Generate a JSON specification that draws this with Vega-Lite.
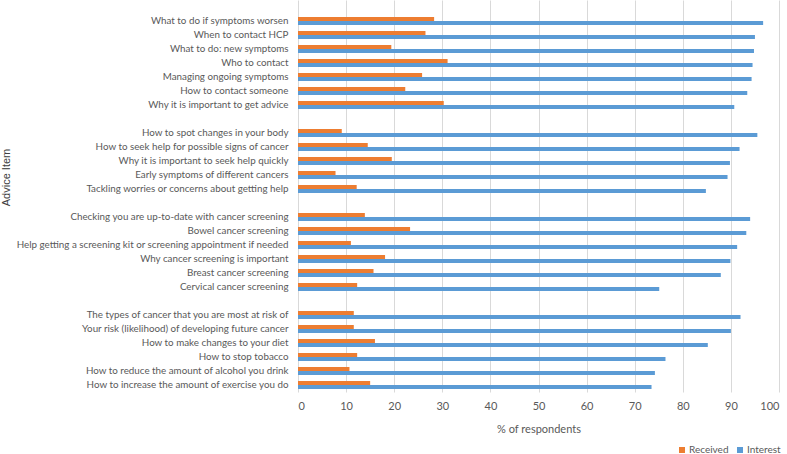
{
  "$schema": "https://vega.github.io/schema/vega-lite/v6.json",
  "autosize": {"type": "none"},
  "width": 481,
  "height": 392,
  "padding": {"left": 298, "top": 0, "right": 8, "bottom": 62},
  "background": "white",
  "config": {
    "view": {"stroke": null},
    "font": "Lato",
    "axis": {"labelColor": "#595959", "titleColor": "#595959", "labelFont": "Lato", "titleFont": "Lato"}
  },
  "data": {
    "values": [
      {"item": "What to do if symptoms worsen", "series": "Received", "value": 28.3},
      {"item": "What to do if symptoms worsen", "series": "Interest", "value": 96.7},
      {"item": "When to contact HCP", "series": "Received", "value": 26.5},
      {"item": "When to contact HCP", "series": "Interest", "value": 95.0},
      {"item": "What to do: new symptoms", "series": "Received", "value": 19.4},
      {"item": "What to do: new symptoms", "series": "Interest", "value": 94.8},
      {"item": "Who to contact", "series": "Received", "value": 31.1},
      {"item": "Who to contact", "series": "Interest", "value": 94.5},
      {"item": "Managing ongoing symptoms", "series": "Received", "value": 25.8},
      {"item": "Managing ongoing symptoms", "series": "Interest", "value": 94.3},
      {"item": "How to contact someone", "series": "Received", "value": 22.3},
      {"item": "How to contact someone", "series": "Interest", "value": 93.4},
      {"item": "Why it is important to get advice", "series": "Received", "value": 30.3},
      {"item": "Why it is important to get advice", "series": "Interest", "value": 90.7},
      {"item": "How to spot changes in your body", "series": "Received", "value": 9.1},
      {"item": "How to spot changes in your body", "series": "Interest", "value": 95.5},
      {"item": "How to seek help for possible signs of cancer", "series": "Received", "value": 14.5},
      {"item": "How to seek help for possible signs of cancer", "series": "Interest", "value": 91.8},
      {"item": "Why it is important to seek help quickly", "series": "Received", "value": 19.5},
      {"item": "Why it is important to seek help quickly", "series": "Interest", "value": 89.8},
      {"item": "Early symptoms of different cancers", "series": "Received", "value": 7.8},
      {"item": "Early symptoms of different cancers", "series": "Interest", "value": 89.3},
      {"item": "Tackling worries or concerns about getting help", "series": "Received", "value": 12.2},
      {"item": "Tackling worries or concerns about getting help", "series": "Interest", "value": 84.8},
      {"item": "Checking you are up-to-date with cancer screening", "series": "Received", "value": 13.9},
      {"item": "Checking you are up-to-date with cancer screening", "series": "Interest", "value": 94.0},
      {"item": "Bowel cancer screening", "series": "Received", "value": 23.3},
      {"item": "Bowel cancer screening", "series": "Interest", "value": 93.2},
      {"item": "Help getting a screening kit or screening appointment if needed", "series": "Received", "value": 11.0},
      {"item": "Help getting a screening kit or screening appointment if needed", "series": "Interest", "value": 91.3},
      {"item": "Why cancer screening is important", "series": "Received", "value": 18.1},
      {"item": "Why cancer screening is important", "series": "Interest", "value": 89.9},
      {"item": "Breast cancer screening", "series": "Received", "value": 15.7},
      {"item": "Breast cancer screening", "series": "Interest", "value": 87.9},
      {"item": "Cervical cancer screening", "series": "Received", "value": 12.3},
      {"item": "Cervical cancer screening", "series": "Interest", "value": 75.1},
      {"item": "The types of cancer that you are most at risk of", "series": "Received", "value": 11.6},
      {"item": "The types of cancer that you are most at risk of", "series": "Interest", "value": 92.0},
      {"item": "Your risk (likelihood) of developing future cancer", "series": "Received", "value": 11.6},
      {"item": "Your risk (likelihood) of developing future cancer", "series": "Interest", "value": 90.0},
      {"item": "How to make changes to your diet", "series": "Received", "value": 16.0},
      {"item": "How to make changes to your diet", "series": "Interest", "value": 85.2},
      {"item": "How to stop tobacco", "series": "Received", "value": 12.3},
      {"item": "How to stop tobacco", "series": "Interest", "value": 76.4},
      {"item": "How to reduce the amount of alcohol you drink", "series": "Received", "value": 10.7},
      {"item": "How to reduce the amount of alcohol you drink", "series": "Interest", "value": 74.2},
      {"item": "How to increase the amount of exercise you do", "series": "Received", "value": 15.0},
      {"item": "How to increase the amount of exercise you do", "series": "Interest", "value": 73.5}
    ]
  },
  "mark": {"type": "bar"},
  "encoding": {
    "y": {
      "field": "item",
      "type": "nominal",
      "sort": null,
      "scale": {
        "domain": [
          " ",
          "What to do if symptoms worsen", "When to contact HCP", "What to do: new symptoms", "Who to contact",
          "Managing ongoing symptoms", "How to contact someone", "Why it is important to get advice",
          "  ",
          "How to spot changes in your body", "How to seek help for possible signs of cancer",
          "Why it is important to seek help quickly", "Early symptoms of different cancers",
          "Tackling worries or concerns about getting help",
          "   ",
          "Checking you are up-to-date with cancer screening", "Bowel cancer screening",
          "Help getting a screening kit or screening appointment if needed", "Why cancer screening is important",
          "Breast cancer screening", "Cervical cancer screening",
          "    ",
          "The types of cancer that you are most at risk of", "Your risk (likelihood) of developing future cancer",
          "How to make changes to your diet", "How to stop tobacco",
          "How to reduce the amount of alcohol you drink", "How to increase the amount of exercise you do"
        ],
        "paddingInner": 0.42,
        "paddingOuter": 0.21
      },
      "axis": {
        "title": "Advice Item",
        "titleFont": "Liberation Sans",
        "titleFontSize": 11,
        "titleFontWeight": "normal",
        "titleColor": "#404040",
        "titleX": -287,
        "titleY": 177,
        "labelFontSize": 9.8,
        "labelPadding": 10,
        "labelLimit": 400,
        "ticks": false,
        "domain": false,
        "grid": false
      }
    },
    "yOffset": {
      "field": "series",
      "type": "nominal",
      "scale": {"domain": ["Received", "Interest"], "paddingInner": 0, "paddingOuter": 0}
    },
    "x": {
      "field": "value",
      "type": "quantitative",
      "scale": {"domain": [0, 100], "nice": false},
      "axis": {
        "title": "% of respondents",
        "titleFontSize": 11,
        "titleFontWeight": "normal",
        "titlePadding": 12,
        "values": [0, 10, 20, 30, 40, 50, 60, 70, 80, 90, 100],
        "labelFontSize": 11,
        "labelPadding": 8,
        "ticks": false,
        "domain": false,
        "grid": true,
        "gridColor": "#D9D9D9",
        "gridWidth": 1
      }
    },
    "color": {
      "field": "series",
      "type": "nominal",
      "scale": {"domain": ["Received", "Interest"], "range": ["#ED7D31", "#5B9BD5"]},
      "legend": {
        "title": null,
        "orient": "none",
        "direction": "horizontal",
        "legendX": 379,
        "legendY": 445,
        "symbolType": "square",
        "symbolSize": 36,
        "symbolStrokeWidth": 0,
        "symbolOpacity": 1,
        "labelFontSize": 10,
        "labelColor": "#595959",
        "labelOffset": 2,
        "columnPadding": 6
      }
    }
  }
}
